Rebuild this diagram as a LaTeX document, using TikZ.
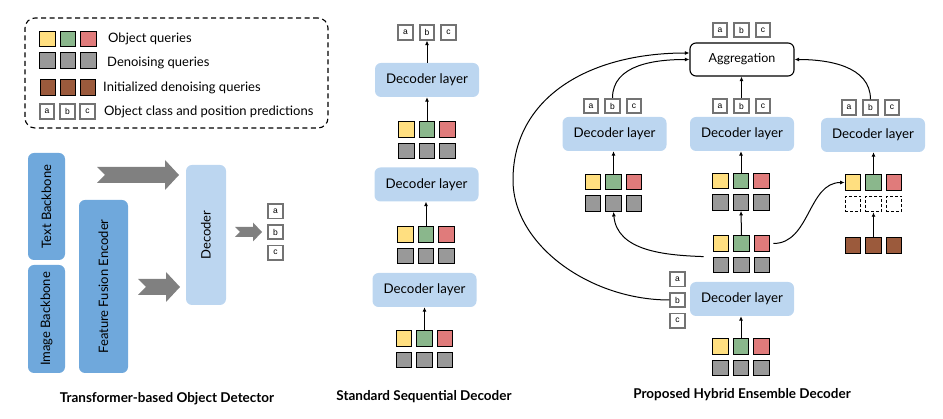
\documentclass[tikz,border=0pt]{standalone}
\usepackage{fontspec}
\setmainfont{Lato}
\newfontfamily\predfont{Liberation Sans}
\usetikzlibrary{positioning,arrows.meta}

\definecolor{qyellow}{HTML}{FFDF80}
\definecolor{qgreen}{HTML}{8AB78C}
\definecolor{qred}{HTML}{E07B7B}
\definecolor{qgray}{HTML}{999999}
\definecolor{qbrown}{HTML}{9B5A3C}
\definecolor{bbblue}{HTML}{6FA8DC}
\definecolor{declight}{HTML}{BCD6F0}
\definecolor{arrgray}{HTML}{808080}

\tikzset{
  query/.style={draw=black, line width=1.3pt, minimum size=15.5pt, inner sep=0pt},
  dnquery/.style={query, fill=qgray},
  emptyquery/.style={draw=black, dashed, dash pattern=on 3pt off 2pt, line width=1pt, minimum size=15.5pt, inner sep=0pt, fill=white},
  predbox/.style={draw=black!55, line width=1.6pt, fill=white, minimum size=14.5pt, inner sep=0pt, font=\predfont\fontsize{8.5}{9}\selectfont},
  layerbox/.style={fill=declight, rounded corners=6pt, minimum width=104pt, minimum height=34pt, inner sep=0pt, font=\fontsize{13.3}{15}\selectfont},
  backbone/.style={fill=bbblue, rounded corners=6pt, rotate=90, inner sep=0pt, font=\fontsize{13}{15}\selectfont},
  legendtext/.style={anchor=west, inner sep=0pt, font=\fontsize{13}{15}\selectfont},
  thinarrow/.style={-{Latex[length=4.5pt,width=4pt]}, line width=1pt},
  title/.style={font=\bfseries\fontsize{13.5}{16}\selectfont},
}

% 2x3 block of queries: name, x, y of top middle square, style of lower row
\newcommand{\qblock}[4]{%
  \node[query, fill=qyellow] (#1-1) at (#2-20.5, #3) {};
  \node[query, fill=qgreen] (#1-2) at (#2, #3) {};
  \node[query, fill=qred] (#1-3) at (#2+20.5, #3) {};
  \foreach \i/\dx in {4/-20.5, 5/0, 6/20.5}
    \node[#4] (#1-\i) at (#2+\dx, #3+21.5) {};
}
% a b c predictions, in a row or in a column
\newcommand{\predrow}[3]{%
  \node[predbox] (#1-a) at (#2-21.5, #3) {a};
  \node[predbox] (#1-b) at (#2, #3) {b};
  \node[predbox] (#1-c) at (#2+21.5, #3) {c};
}
\newcommand{\predcol}[3]{%
  \node[predbox] (#1-a) at (#2, #3-20.75) {a};
  \node[predbox] (#1-b) at (#2, #3) {b};
  \node[predbox] (#1-c) at (#2, #3+20.75) {c};
}
% grey block arrow with notched tail: x0, x1, y, half shaft, half head, head length, notch
\newcommand{\fatarrow}[7]{%
  \fill[arrgray] (#1, #3-#4) -- (#2-#6, #3-#4) -- (#2-#6, #3-#5) -- (#2, #3)
    -- (#2-#6, #3+#5) -- (#2-#6, #3+#4) -- (#1, #3+#4) -- (#1+#7, #3) -- cycle;
}

\begin{document}
\begin{tikzpicture}[x=1pt, y=-1pt]
  \useasboundingbox (0,0) rectangle (943,419);

  % legend
  \node[draw, dashed, dash pattern=on 5pt off 3.5pt, line width=1.1pt, rounded corners=10pt,
        minimum width=303pt, minimum height=110pt] (legend) at (176.5,73) {};
  \qblock{lgq}{68}{39}{dnquery}
  \foreach \i/\dx in {1/-20, 2/0, 3/20}
    \node[query, fill=qbrown] (lgbrown-\i) at (68+\dx, 87.5) {};
  \node[predbox] (lgpred-a) at (47,111.5) {a};
  \node[predbox] (lgpred-b) at (67.5,111.5) {b};
  \node[predbox] (lgpred-c) at (87.5,111.5) {c};
  \node[legendtext] (lgtext1) at (108,39) {Object queries};
  \node[legendtext] (lgtext2) at (107,62.5) {Denoising queries};
  \node[legendtext] (lgtext3) at (103,87.5) {Initialized denoising queries};
  \node[legendtext] (lgtext4) at (104,111.5) {Object class and position predictions};

  % transformer-based object detector
  \node[backbone, minimum width=107pt, minimum height=37pt] (textbb) at (46.5,206.5) {Text Backbone};
  \node[backbone, minimum width=108pt, minimum height=37pt] (imgbb) at (46.5,319) {Image Backbone};
  \node[backbone, minimum width=173pt, minimum height=49pt] (fusion) at (103.5,286.5) {Feature Fusion Encoder};
  \node[backbone, fill=declight, minimum width=140pt, minimum height=40pt] (detdec) at (206,235) {Decoder};
  \fatarrow{97}{179}{175}{8}{15}{14}{8}
  \fatarrow{138}{180}{287}{8}{15}{14}{8}
  \fatarrow{235}{262}{232}{5}{9.5}{9}{5}
  \predcol{detout}{275.5}{232}
  \node[title] (title1) at (167,399) {Transformer-based Object Detector};

  % standard sequential decoder
  \predrow{seqout}{427}{32.5}
  \node[layerbox] (seq1) at (427,80) {Decoder layer};
  \qblock{seqq1}{427}{129.5}{dnquery}
  \node[layerbox] (seq2) at (426.5,184.5) {Decoder layer};
  \qblock{seqq2}{426}{234.5}{dnquery}
  \node[layerbox] (seq3) at (424.5,290) {Decoder layer};
  \qblock{seqq3}{424.5}{338.5}{dnquery}
  \draw[thinarrow] (seq1.north -| seqout-b) -- (seqout-b.south);
  \draw[thinarrow] (seqq1-2.north) -- (seqq1-2.north |- seq1.south);
  \draw[thinarrow] (seqq2-2.north) -- (seqq2-2.north |- seq2.south);
  \draw[thinarrow] (seqq3-2.north) -- (seqq3-2.north |- seq3.south);
  \node[title] (title2) at (424,397) {Standard Sequential Decoder};

  % proposed hybrid ensemble decoder
  \node[draw=black, line width=1.1pt, fill=white, rounded corners=6pt, minimum width=104pt,
        minimum height=33pt, font=\fontsize{12.5}{15}\selectfont] (agg) at (742,59.5) {Aggregation};
  \predrow{aggout}{741.5}{30}
  \predrow{leftout}{612.5}{106}
  \node[layerbox] (leftdec) at (614.5,134) {Decoder layer};
  \qblock{leftq}{613.5}{182}{dnquery}
  \predrow{midout}{741.5}{106}
  \node[layerbox] (middec) at (742,134) {Decoder layer};
  \qblock{midq}{741}{181}{dnquery}
  \predrow{rightout}{870.5}{107.5}
  \node[layerbox] (rightdec) at (873,135) {Decoder layer};
  \qblock{rightq}{873.5}{182.5}{emptyquery}
  \foreach \i/\dx in {1/-20.5, 2/0, 3/20.5}
    \node[query, fill=qbrown] (brown-\i) at (873.5+\dx, 245.5) {};
  \qblock{firstq}{741.5}{243.5}{dnquery}
  \node[layerbox] (firstdec) at (742,299) {Decoder layer};
  \predcol{firstout}{677.5}{300}
  \qblock{inq}{741}{346.5}{dnquery}

  \coordinate (loopleft) at (513,180);
  \coordinate (firstq-tap) at ([xshift=-9pt]firstq-4.north west);
  \draw[thinarrow] (midout-b.north) -- (agg.south -| midout-b);
  \draw[thinarrow] (leftout-b.north) to[out=90, in=180] (agg.west);
  \draw[thinarrow] (rightout-b.north) to[out=90, in=0] (agg.east);
  \draw[thinarrow] (firstout-b.west) .. controls (590,300) and (513,245) .. (loopleft)
    .. controls (513,98) and (588,53) .. ([yshift=6.5pt]agg.west);
  \draw[thinarrow] (leftq-2.north) -- (leftq-2.north |- leftdec.south);
  \draw[thinarrow] (midq-2.north) -- (midq-2.north |- middec.south);
  \draw[thinarrow] (rightq-2.north) -- (rightq-2.north |- rightdec.south);
  \draw[thinarrow] (brown-2.north) -- (rightq-5.south);
  \draw[thinarrow] (firstq-2.north) -- (midq-5.south);
  \draw[thinarrow] (inq-2.north) -- (inq-2.north |- firstdec.south);
  \draw[thinarrow] (firstq-tap) to[out=178, in=-85] (leftq-5.south);
  \draw[thinarrow] ([xshift=3pt]firstq-3.east) to[out=0, in=180] (rightq-1.west);
  \node[title] (title3) at (742,395) {Proposed Hybrid Ensemble Decoder};
\end{tikzpicture}
\end{document}
